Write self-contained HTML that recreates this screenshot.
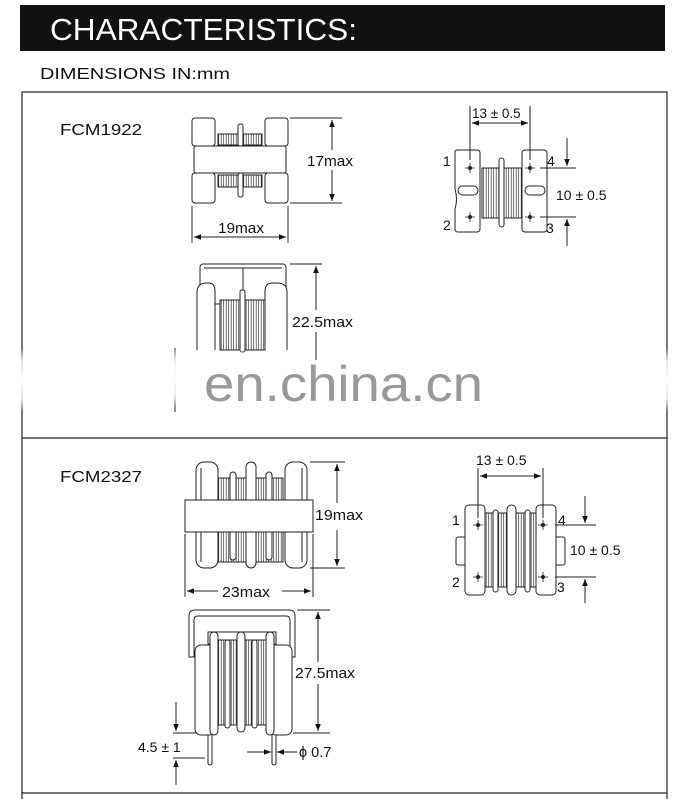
<!DOCTYPE html>
<html><head><meta charset="utf-8"><style>
html,body{margin:0;padding:0;background:#fff;}
svg{display:block;}
text{font-family:"Liberation Sans",sans-serif;fill:#111;}
</style></head><body>
<svg width="684" height="799" viewBox="0 0 684 799" xmlns="http://www.w3.org/2000/svg">
<defs>
<marker id="a" viewBox="0 0 10 10" refX="10" refY="5" markerWidth="9" markerHeight="7" orient="auto-start-reverse" markerUnits="userSpaceOnUse"><path d="M0,1 L10,5 L0,9 z" fill="#111"/></marker>
<radialGradient id="fade"><stop offset="0" stop-color="#fff" stop-opacity="1"/><stop offset="0.6" stop-color="#fff" stop-opacity="0.8"/><stop offset="1" stop-color="#fff" stop-opacity="0"/></radialGradient>
<pattern id="w" width="2.5" height="10" patternUnits="userSpaceOnUse"><rect width="2.5" height="10" fill="#fff"/><line x1="1.2" y1="0" x2="1.2" y2="10" stroke="#333" stroke-width="0.7"/></pattern>
</defs>
<rect x="20" y="5" width="645" height="46" fill="#111"/>
<text x="50" y="40" font-size="31" textLength="307" lengthAdjust="spacingAndGlyphs" style="fill:#fff">CHARACTERISTICS:</text>
<text x="40" y="79" font-size="16" textLength="190" lengthAdjust="spacingAndGlyphs">DIMENSIONS IN:mm</text>
<rect x="22" y="92" width="645" height="720" fill="none" stroke="#222" stroke-width="1.2"/>
<line x1="22" y1="438" x2="667" y2="438" stroke="#222" stroke-width="1.2"/>
<line x1="22" y1="793" x2="667" y2="793" stroke="#222" stroke-width="1.2"/>

<g fill="none" stroke="#222" stroke-width="1">
<rect x="218" y="134" width="44" height="11" fill="url(#w)"/>
<rect x="218" y="175" width="44" height="12" fill="url(#w)"/>
<rect x="192" y="118" width="23" height="28" rx="3"/>
<rect x="265" y="118" width="23" height="28" rx="3"/>
<rect x="192" y="173" width="23" height="30" rx="3"/>
<rect x="265" y="173" width="23" height="30" rx="3"/>
<rect x="194" y="146" width="92" height="27" rx="2" fill="#fff"/>
<rect x="238" y="124" width="5" height="22" rx="2" fill="#fff"/>
<rect x="238" y="173" width="5" height="24" rx="2" fill="#fff"/>
<line x1="290" y1="118" x2="342" y2="118"/><line x1="290" y1="203" x2="342" y2="203"/>
<line x1="332" y1="120" x2="332" y2="150" marker-start="url(#a)"/>
<line x1="332" y1="170" x2="332" y2="201" marker-end="url(#a)"/>
<line x1="192" y1="206" x2="192" y2="243"/><line x1="288" y1="206" x2="288" y2="243"/>
<line x1="194" y1="237" x2="286" y2="237" marker-start="url(#a)" marker-end="url(#a)"/>
<rect x="200" y="264" width="86" height="40" rx="3"/>
<line x1="204" y1="268" x2="282" y2="268"/>
<line x1="243" y1="268" x2="243" y2="290"/>
<rect x="220" y="300" width="45" height="50" fill="url(#w)"/>
<path d="M197,350 V292 q0,-9 10,-9 h2 q6,0 6,9 V350" fill="#fff"/>
<path d="M265,350 V292 q0,-9 7,-9 h5 q10,0 10,9 V350" fill="#fff"/>
<rect x="240" y="290" width="5" height="62" rx="2" fill="#fff"/>
<line x1="290" y1="264" x2="322" y2="264"/>
<line x1="316" y1="266" x2="316" y2="310" marker-start="url(#a)"/>
<line x1="316" y1="332" x2="316" y2="360"/>
<line x1="175" y1="348" x2="175" y2="412"/>
<rect x="482" y="168" width="40" height="50" fill="url(#w)"/>
<path d="M455,152 q0,-2 3,-2 h19 q3,0 3,3 v76 q0,3 -3,3 h-19 q-3,0 -3,-3 v-20 q3,-10 0,-20 z" fill="#fff"/>
<rect x="522" y="150" width="25" height="82" rx="3" fill="#fff"/>
<rect x="458" y="186" width="20" height="9" rx="4.5"/>
<rect x="525" y="186" width="20" height="9" rx="4.5"/>
<rect x="499" y="158" width="5" height="69" rx="2.5" fill="#fff"/>
<line x1="470" y1="106" x2="470" y2="160"/><line x1="530" y1="106" x2="530" y2="160"/>
<line x1="472" y1="123" x2="528" y2="123" marker-start="url(#a)" marker-end="url(#a)"/>
<line x1="540" y1="168" x2="576" y2="168"/><line x1="540" y1="217" x2="576" y2="217"/>
<line x1="567" y1="138" x2="567" y2="166" marker-end="url(#a)"/>
<line x1="567" y1="246" x2="567" y2="219" marker-end="url(#a)"/>
</g>
<g fill="#222">
<circle cx="470" cy="168" r="2"/><circle cx="470" cy="217" r="2"/><circle cx="530" cy="168" r="2"/><circle cx="530" cy="217" r="2"/>
</g>
<g stroke="#222" stroke-width="0.8">
<path d="M470,163v10M465,168h10M470,212v10M465,217h10M530,163v10M525,168h10M530,212v10M525,217h10"/>
</g>
<text x="60" y="135" font-size="16" textLength="82" lengthAdjust="spacingAndGlyphs">FCM1922</text>
<text x="307" y="166" font-size="14.5" textLength="46" lengthAdjust="spacingAndGlyphs">17max</text>
<text x="218" y="233" font-size="14.5" textLength="46" lengthAdjust="spacingAndGlyphs">19max</text>
<text x="292" y="327" font-size="14.5" textLength="61" lengthAdjust="spacingAndGlyphs">22.5max</text>
<text x="472" y="118" font-size="13.5">13 ± 0.5</text>
<text x="443" y="166" font-size="14">1</text>
<text x="443" y="230" font-size="14">2</text>
<text x="547" y="166" font-size="14">4</text>
<text x="546" y="233" font-size="14">3</text>
<text x="556" y="200" font-size="14">10 ± 0.5</text>

<ellipse cx="235" cy="372" rx="75" ry="22" fill="url(#fade)"/>
<ellipse cx="175" cy="378" rx="12" ry="30" fill="url(#fade)"/>
<ellipse cx="22" cy="380" rx="10" ry="32" fill="url(#fade)"/>
<ellipse cx="667" cy="380" rx="12" ry="32" fill="url(#fade)"/>
<text x="204" y="401" font-size="50" textLength="279" lengthAdjust="spacingAndGlyphs" style="fill:#999">en.china.cn</text>

<text x="60" y="482" font-size="16" textLength="82" lengthAdjust="spacingAndGlyphs">FCM2327</text>
<g fill="none" stroke="#222" stroke-width="1">
<rect x="218" y="478" width="65" height="84" fill="url(#w)"/>
<rect x="196" y="462" width="22" height="106" rx="8" fill="#fff"/>
<rect x="285" y="462" width="22" height="106" rx="8" fill="#fff"/>
<path d="M201,468 v94 M302,468 v94"/>
<rect x="230" y="472" width="6" height="88" rx="3" fill="#fff"/>
<rect x="246" y="462" width="10" height="106" rx="5" fill="#fff"/>
<rect x="266" y="472" width="6" height="88" rx="3" fill="#fff"/>
<rect x="185" y="500" width="128" height="32" fill="#fff"/>
<line x1="310" y1="462" x2="345" y2="462"/><line x1="310" y1="568" x2="345" y2="568"/>
<line x1="337" y1="464" x2="337" y2="503" marker-start="url(#a)"/>
<line x1="337" y1="530" x2="337" y2="566" marker-end="url(#a)"/>
<line x1="185" y1="534" x2="185" y2="597"/><line x1="313" y1="534" x2="313" y2="597"/>
<line x1="187" y1="591" x2="218" y2="591" marker-start="url(#a)"/>
<line x1="282" y1="591" x2="311" y2="591" marker-end="url(#a)"/>
<path d="M189,657 V616 q0,-6 6,-6 h94 q6,0 6,6 V657 h-5 V620 q0,-4 -4,-4 h-88 q-4,0 -4,4 V657 z" fill="#fff"/>
<rect x="208" y="733" width="4" height="32" rx="2"/>
<rect x="272" y="733" width="4" height="32" rx="2"/>
<rect x="208" y="632" width="68" height="12"/>
<rect x="215" y="640" width="55" height="85" fill="url(#w)"/>
<rect x="195" y="645" width="20" height="90" rx="6" fill="#fff"/>
<rect x="270" y="645" width="22" height="90" rx="6" fill="#fff"/>
<rect x="210" y="632" width="8" height="103" rx="4" fill="#fff"/>
<rect x="266" y="632" width="8" height="103" rx="4" fill="#fff"/>
<rect x="225" y="640" width="5" height="88" rx="2.5" fill="#fff"/>
<rect x="237" y="632" width="8" height="100" rx="4" fill="#fff"/>
<rect x="252" y="640" width="5" height="88" rx="2.5" fill="#fff"/>
<line x1="297" y1="610" x2="330" y2="610"/><line x1="293" y1="733" x2="330" y2="733"/>
<line x1="318" y1="612" x2="318" y2="662" marker-start="url(#a)"/>
<line x1="318" y1="684" x2="318" y2="731" marker-end="url(#a)"/>
<line x1="173" y1="733" x2="197" y2="733"/><line x1="173" y1="758" x2="205" y2="758"/>
<line x1="176" y1="702" x2="176" y2="731" marker-end="url(#a)"/>
<line x1="176" y1="785" x2="176" y2="760" marker-end="url(#a)"/>
<line x1="247" y1="752" x2="271" y2="752" marker-end="url(#a)"/>
<line x1="297" y1="752" x2="277" y2="752" marker-end="url(#a)"/>
<rect x="485" y="513" width="51" height="74" fill="url(#w)"/>
<rect x="456" y="537" width="10" height="28" rx="2" fill="#fff"/>
<rect x="555" y="537" width="10" height="28" rx="2" fill="#fff"/>
<rect x="465" y="505" width="20" height="90" rx="4" fill="#fff"/>
<rect x="536" y="505" width="20" height="90" rx="4" fill="#fff"/>
<rect x="493" y="510" width="5" height="82" rx="2.5" fill="#fff"/>
<rect x="507" y="505" width="9" height="90" rx="4.5" fill="#fff"/>
<rect x="525" y="510" width="5" height="82" rx="2.5" fill="#fff"/>
<line x1="478" y1="468" x2="478" y2="518"/><line x1="543" y1="468" x2="543" y2="518"/>
<line x1="480" y1="476" x2="541" y2="476" marker-start="url(#a)" marker-end="url(#a)"/>
<line x1="555" y1="525" x2="596" y2="525"/><line x1="555" y1="577" x2="596" y2="577"/>
<line x1="585" y1="496" x2="585" y2="523" marker-end="url(#a)"/>
<line x1="585" y1="603" x2="585" y2="579" marker-end="url(#a)"/>
</g>
<g fill="#222">
<circle cx="478" cy="525" r="2"/><circle cx="478" cy="577" r="2"/><circle cx="543" cy="525" r="2"/><circle cx="543" cy="577" r="2"/>
</g>
<g stroke="#222" stroke-width="0.8">
<path d="M478,520v10M473,525h10M478,572v10M473,577h10M543,520v10M538,525h10M543,572v10M538,577h10"/>
</g>
<text x="315" y="520" font-size="14.5" textLength="48" lengthAdjust="spacingAndGlyphs">19max</text>
<text x="222" y="597" font-size="14.5" textLength="48" lengthAdjust="spacingAndGlyphs">23max</text>
<text x="295" y="678" font-size="14.5" textLength="60" lengthAdjust="spacingAndGlyphs">27.5max</text>
<text x="138" y="752" font-size="14">4.5 ± 1</text>
<text x="299" y="757" font-size="14.5">ϕ 0.7</text>
<text x="476" y="465" font-size="14">13 ± 0.5</text>
<text x="452" y="525" font-size="14">1</text>
<text x="452" y="587" font-size="14">2</text>
<text x="558" y="525" font-size="14">4</text>
<text x="557" y="592" font-size="14">3</text>
<text x="570" y="555" font-size="14">10 ± 0.5</text>
</svg>
</body></html>
